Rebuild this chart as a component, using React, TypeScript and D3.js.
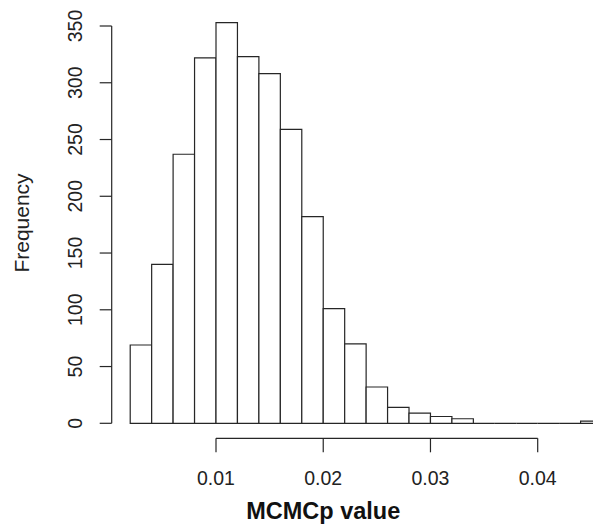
import React, { useEffect, useRef } from 'react';
import * as d3 from 'd3';

// histogram bins (width 0.002) starting at 0.002
const binStarts = [
  0.002, 0.004, 0.006, 0.008, 0.010, 0.012, 0.014, 0.016, 0.018, 0.020, 0.022,
  0.024, 0.026, 0.028, 0.030, 0.032, 0.034, 0.036, 0.038, 0.040, 0.042, 0.044,
];
const counts = [69, 140, 237, 322, 353, 323, 308, 259, 182, 101, 70, 32, 14, 9, 6, 4, 0, 0, 0, 0, 0, 2];
const binWidth = 0.002;
const xTicks = [0.01, 0.02, 0.03, 0.04];
const yTicks = [0, 50, 100, 150, 200, 250, 300, 350];

const App = () => {
  const ref = useRef<SVGSVGElement>(null);

  useEffect(() => {
    const svg = d3.select(ref.current);
    svg.selectAll('*').remove();

    const font = '"Liberation Sans", Arial, sans-serif';
    const ink = '#262626';

    const x = d3.scaleLinear().domain([0.01, 0.04]).range([216, 537.7]);
    const y = d3.scaleLinear().domain([0, 350]).range([423.3, 26]);

    const bars = binStarts.map((b, i) => ({ x0: b, x1: b + binWidth, n: counts[i] }));

    // paths rather than rects so that empty bins still show as a flat line
    svg.append('g')
      .selectAll('path')
      .data(bars)
      .join('path')
      .attr('d', d => {
        const p = d3.path();
        p.moveTo(x(d.x0), y(0));
        p.lineTo(x(d.x0), y(d.n));
        p.lineTo(x(d.x1), y(d.n));
        p.lineTo(x(d.x1), y(0));
        p.closePath();
        return p.toString();
      })
      .attr('fill', 'white')
      .attr('stroke', ink)
      .attr('stroke-width', 1.2);

    // x axis (R style, detached)
    const xAxisY = 438.3;
    const gx = svg.append('g');
    gx.append('line')
      .attr('x1', x(xTicks[0])).attr('x2', x(xTicks[xTicks.length - 1]))
      .attr('y1', xAxisY).attr('y2', xAxisY)
      .attr('stroke', ink).attr('stroke-width', 1.2);
    gx.selectAll('line.tick')
      .data(xTicks)
      .join('line')
      .attr('class', 'tick')
      .attr('x1', d => x(d)).attr('x2', d => x(d))
      .attr('y1', xAxisY).attr('y2', xAxisY + 14)
      .attr('stroke', ink).attr('stroke-width', 1.2);
    gx.selectAll('text')
      .data(xTicks)
      .join('text')
      .attr('x', d => x(d))
      .attr('y', 485)
      .attr('text-anchor', 'middle')
      .style('font-family', font)
      .style('font-size', '19.5px')
      .attr('fill', '#222')
      .text(d => d3.format('.2f')(d));

    // y axis
    const yAxisX = 111.7;
    const gy = svg.append('g');
    gy.append('line')
      .attr('x1', yAxisX).attr('x2', yAxisX)
      .attr('y1', y(0)).attr('y2', y(350))
      .attr('stroke', ink).attr('stroke-width', 1.2);
    gy.selectAll('line.tick')
      .data(yTicks)
      .join('line')
      .attr('class', 'tick')
      .attr('x1', yAxisX - 12).attr('x2', yAxisX)
      .attr('y1', d => y(d)).attr('y2', d => y(d))
      .attr('stroke', ink).attr('stroke-width', 1.2);
    gy.selectAll('text')
      .data(yTicks)
      .join('text')
      .attr('transform', d => `translate(82,${y(d)}) rotate(-90)`)
      .attr('text-anchor', 'middle')
      .style('font-family', font)
      .style('font-size', '19.5px')
      .attr('fill', '#222')
      .text(d => d);

    svg.append('text')
      .attr('transform', 'translate(29,223) rotate(-90)')
      .attr('text-anchor', 'middle')
      .style('font-family', font)
      .style('font-size', '21px')
      .attr('fill', '#222')
      .text('Frequency');

    svg.append('text')
      .attr('x', x(0.02))
      .attr('y', 519)
      .attr('text-anchor', 'middle')
      .style('font-family', font)
      .style('font-size', '23.5px')
      .style('font-weight', 'bold')
      .attr('fill', '#111')
      .text('MCMCp value');
  }, []);

  return (
    <div style={{ position: 'absolute', left: 0, top: 0, width: 593, height: 529, background: 'white' }}>
      <svg ref={ref} width={593} height={529} style={{ display: 'block' }} />
    </div>
  );
};

export default App;
